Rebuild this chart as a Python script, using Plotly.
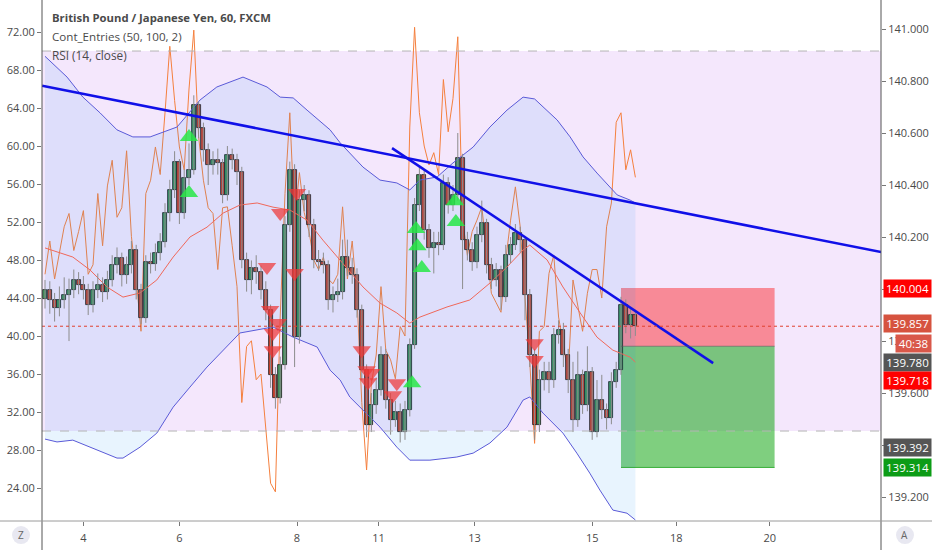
import plotly.graph_objects as go

# GBPJPY 60 min bars (bar index), prices
bar = list(range(124))

open_ = [139.960, 139.996, 139.958, 139.927, 139.958, 139.977, 139.996, 140.035, 140.015, 139.996,
         139.938, 139.996, 140.015, 139.988, 140.035, 140.092, 140.119, 140.054, 140.092, 140.150,
         139.996, 139.888, 140.104, 140.096, 140.138, 140.181, 140.292, 140.381, 140.488, 140.292,
         140.427, 140.458, 140.708, 140.619, 140.535, 140.477, 140.496, 140.485, 140.362, 140.515,
         140.496, 140.450, 140.112, 140.035, 140.081, 140.065, 139.996, 139.919, 139.669, 139.581,
         139.708, 140.246, 140.458, 139.815, 140.342, 140.362, 140.246, 140.112, 140.104, 140.092,
         139.958, 139.977, 139.988, 140.123, 140.081, 140.054, 139.919, 139.688, 139.477, 139.554,
         139.612, 139.746, 139.573, 139.496, 139.527, 139.450, 139.535, 139.785, 140.323, 140.438,
         140.227, 140.158, 140.177, 140.169, 140.408, 140.323, 140.362, 140.504, 140.188, 140.150,
         140.104, 140.208, 140.254, 140.092, 140.035, 140.073, 139.969, 140.131, 140.169, 140.215,
         140.188, 139.977, 139.746, 139.477, 139.650, 139.681, 139.650, 139.823, 139.842, 139.746,
         139.650, 139.496, 139.669, 139.554, 139.681, 139.450, 139.573, 139.535, 139.504, 139.642,
         139.688, 139.938, 139.862, 139.900]
close = [139.996, 139.958, 139.927, 139.958, 139.977, 139.996, 140.035, 140.015, 139.996, 139.938,
         139.996, 140.015, 139.988, 140.035, 140.092, 140.119, 140.054, 140.092, 140.150, 139.996,
         139.888, 140.104, 140.096, 140.138, 140.181, 140.292, 140.381, 140.488, 140.292, 140.427,
         140.458, 140.708, 140.619, 140.535, 140.477, 140.496, 140.485, 140.362, 140.515, 140.496,
         140.450, 140.112, 140.035, 140.081, 140.065, 139.996, 139.919, 139.669, 139.581, 139.708,
         140.246, 140.458, 139.815, 140.342, 140.362, 140.246, 140.112, 140.104, 140.092, 139.958,
         139.977, 139.988, 140.123, 140.081, 140.054, 139.919, 139.688, 139.477, 139.554, 139.612,
         139.746, 139.573, 139.496, 139.527, 139.450, 139.535, 139.785, 140.323, 140.438, 140.227,
         140.158, 140.177, 140.169, 140.408, 140.323, 140.362, 140.504, 140.188, 140.150, 140.104,
         140.208, 140.254, 140.092, 140.035, 140.073, 139.969, 140.131, 140.169, 140.215, 140.188,
         139.977, 139.746, 139.477, 139.650, 139.681, 139.650, 139.823, 139.842, 139.746, 139.650,
         139.496, 139.669, 139.554, 139.681, 139.450, 139.573, 139.535, 139.504, 139.642, 139.688,
         139.938, 139.862, 139.900, 139.857]
high = [140.035, 140.030, 139.985, 140.010, 140.045, 140.040, 140.075, 140.065, 140.050, 140.020,
        140.030, 140.060, 140.045, 140.070, 140.130, 140.160, 140.140, 140.125, 140.185, 140.170,
        140.020, 140.130, 140.140, 140.175, 140.215, 140.330, 140.420, 140.530, 140.500, 140.460,
        140.560, 140.745, 140.720, 140.640, 140.560, 140.530, 140.540, 140.500, 140.550, 140.540,
        140.520, 140.470, 140.140, 140.110, 140.130, 140.090, 140.030, 139.940, 139.700, 139.740,
        140.280, 140.490, 140.480, 140.380, 140.400, 140.380, 140.270, 140.150, 140.140, 140.110,
        140.010, 140.040, 140.190, 140.190, 140.120, 140.080, 139.940, 139.710, 139.600, 139.660,
        139.780, 139.770, 139.600, 139.570, 139.560, 139.570, 139.810, 140.350, 140.470, 140.460,
        140.250, 140.220, 140.220, 140.440, 140.430, 140.400, 140.600, 140.520, 140.220, 140.180,
        140.240, 140.340, 140.270, 140.120, 140.100, 140.090, 140.170, 140.200, 140.250, 140.240,
        140.200, 140.000, 139.770, 139.690, 139.720, 139.720, 139.850, 139.880, 139.870, 139.770,
        139.720, 139.760, 139.690, 139.780, 139.700, 139.650, 139.670, 139.560, 139.680, 139.720,
        139.970, 139.960, 139.930, 139.920]
low = [139.925, 139.905, 139.875, 139.895, 139.925, 139.800, 139.965, 139.980, 139.960, 139.900,
       139.910, 139.965, 139.950, 139.960, 140.010, 140.060, 140.010, 140.020, 140.060, 139.960,
       139.865, 139.870, 140.060, 140.070, 140.110, 140.160, 140.260, 140.350, 140.250, 140.270,
       140.400, 140.440, 140.580, 140.490, 140.400, 140.440, 140.440, 140.330, 140.340, 140.460,
       140.400, 140.080, 139.990, 139.980, 140.020, 139.960, 139.880, 139.620, 139.540, 139.560,
       139.690, 140.220, 139.700, 139.790, 140.300, 140.200, 140.080, 140.070, 140.060, 139.920,
       139.910, 139.950, 139.960, 140.050, 140.020, 139.890, 139.650, 139.430, 139.450, 139.520,
       139.590, 139.540, 139.440, 139.470, 139.410, 139.420, 139.510, 139.770, 140.300, 140.190,
       140.120, 140.060, 140.130, 140.150, 140.290, 140.300, 140.340, 140.000, 140.110, 140.070,
       140.080, 140.180, 140.060, 140.000, 140.010, 139.920, 139.950, 140.100, 140.150, 140.140,
       139.880, 139.700, 139.420, 139.450, 139.610, 139.600, 139.620, 139.790, 139.700, 139.600,
       139.450, 139.470, 139.520, 139.530, 139.420, 139.430, 139.500, 139.460, 139.480, 139.620,
       139.670, 139.830, 139.810, 139.820]

# RSI (14, close), left scale
rsi = [46.5, 50.0, 46.0, 48.7, 51.5, 52.9, 49.0, 51.0, 53.2, 46.5,
       47.5, 55.0, 49.5, 55.8, 58.5, 52.5, 53.5, 59.5, 50.5, 46.0,
       40.5, 55.0, 56.4, 59.9, 57.0, 63.5, 70.5, 64.8, 59.9, 57.5,
       66.0, 72.2, 61.0, 56.4, 53.5, 52.9, 47.0, 53.5, 53.6, 49.5,
       45.2, 33.0, 38.9, 39.5, 35.4, 36.0, 30.0, 24.5, 23.6, 42.0,
       55.0, 63.5, 52.0, 57.2, 53.0, 51.0, 48.0, 47.0, 48.3, 46.0,
       45.5, 46.5, 53.6, 46.0, 50.0, 44.1, 33.0, 25.9, 35.0, 38.0,
       45.2, 38.5, 37.5, 35.5, 41.0, 40.0, 62.0, 72.5, 63.5, 60.0,
       58.0, 59.3, 57.0, 67.0, 61.5, 65.0, 71.5, 52.2, 48.5, 51.0,
       52.2, 53.6, 49.0, 44.5, 43.5, 42.5, 48.0, 52.2, 55.7, 51.5,
       44.1, 37.2, 28.7, 40.5, 41.0, 46.6, 48.5, 42.0, 39.0, 36.0,
       45.9, 43.0, 40.5, 44.5, 47.0, 47.0, 44.0, 51.5, 54.0, 62.5,
       63.5, 57.5, 59.6, 56.7]

# Cont_Entries bands and average
band_up_bar = [0, 4.6, 7.9, 11.5, 15, 18.3, 21.9, 27.5, 32.3, 35.8, 41.25, 46.25, 49, 51.7, 54.6,
               59.4, 61.5, 66.25, 69.8, 73.3, 76, 78.1, 81.7, 85, 89.2, 92.7, 96.25, 99.6, 102,
               106.7, 109.4, 112.1, 115, 117.7, 119.2, 121.9, 123]
band_up = [140.895, 140.815, 140.738, 140.677, 140.612, 140.585, 140.585, 140.623, 140.727, 140.777,
           140.815, 140.777, 140.738, 140.735, 140.688, 140.612, 140.562, 140.469, 140.419, 140.408,
           140.381, 140.419, 140.431, 140.485, 140.546, 140.623, 140.688, 140.738, 140.731, 140.650,
           140.585, 140.508, 140.446, 140.392, 140.362, 140.342, 140.331]
band_lo_bar = [0, 2.5, 5.8, 9.4, 15, 16.25, 19.8, 23.3, 26.7, 30.2, 33.75, 40.6, 44.2, 47.5, 51.7,
               54.6, 56.7, 59.4, 61.5, 63.5, 69.8, 73.3, 76, 80.2, 85.8, 89.2, 92.7, 96.25, 99.6,
               101, 103.75, 107.9, 110.8, 113.5, 115.6, 118.3, 121.25, 123]
band_lo = [139.423, 139.412, 139.419, 139.392, 139.350, 139.350, 139.392, 139.446, 139.546, 139.623,
           139.700, 139.831, 139.842, 139.854, 139.815, 139.792, 139.777, 139.688, 139.650, 139.585,
           139.469, 139.392, 139.342, 139.342, 139.354, 139.369, 139.408, 139.469, 139.573, 139.585,
           139.523, 139.446, 139.369, 139.292, 139.227, 139.150, 139.138, 139.112]
ma_bar = [0, 5.8, 9.4, 12.9, 16.25, 19.8, 23.3, 26.7, 30.2, 33.75, 37.1, 40.6, 44.2, 47.5, 51,
          54.6, 57.9, 61.5, 66.25, 69.8, 73.3, 76, 78.1, 83.75, 88.5, 92.7, 96.25, 99.6, 101,
          104.6, 107.9, 111.5, 115, 118.3, 121.9, 123]
ma = [140.158, 140.123, 140.073, 140.008, 139.969, 139.985, 140.035, 140.123, 140.200, 140.238,
      140.292, 140.323, 140.331, 140.315, 140.304, 140.265, 140.188, 140.112, 140.008, 139.946,
      139.908, 139.869, 139.892, 139.931, 139.958, 140.023, 140.085, 140.150, 140.169, 140.112,
      140.008, 139.908, 139.815, 139.765, 139.738, 139.719]

# entry signals
buy_bar = [30, 30, 77.3, 77.6, 78.5, 76.5, 85.4, 85.6]
buy_px = [140.585, 140.369, 140.231, 140.165, 140.081, 139.638, 140.338, 140.258]
sell_bar = [46.25, 49, 52.5, 52, 46.9, 48.5, 47.5, 47.5, 66, 67, 68, 67.3, 73.3, 72.5, 102, 102]
sell_px = [140.085, 140.292, 140.369, 140.062, 139.919, 139.869, 139.831, 139.765, 139.765, 139.688,
           139.677, 139.642, 139.638, 139.592, 139.792, 139.727]

# drawn trend lines
tl1_bar = [-0.6, 174.2]
tl1_px = [140.782, 140.142]
tl2_bar = [72.3, 139.2]
tl2_px = [140.542, 139.715]

# short position tool
pos_bar = [120, 152]
entry, stop, target = 139.780, 140.004, 139.314
last_px = 139.857

day_bar = [8, 28, 52.5, 69.5, 89.5, 114, 131.5, 151]
day_lbl = ["4", "6", "8", "11", "13", "15", "18", "20"]

rsi_ticks = [24, 28, 32, 36, 40, 44, 48, 52, 56, 60, 64, 68, 72]
px_ticks = [139.2, 139.4, 139.6, 139.8, 140.0, 140.2, 140.4, 140.6, 140.8, 141.0]
# 140.000 and 139.400 sit fully under the price tags
px_lbl = ["139.200", "", "139.600", "139.800", "", "140.200", "140.400", "140.600", "140.800", "141.000"]

# right scale tags: value, colour, shift
tag_val = [140.004, 139.857, 139.780, 139.718, 139.392, 139.314]
tag_col = ["#ff0000", "#d6533f", "#555555", "#ff0000", "#555555", "#0c9c16"]
tag_shift = [0, 3, -16, -18, 0, 0]

FONT = "Open Sans"
TXT = "#4a4a4a"

fig = go.Figure()

fig.add_trace(go.Scatter(x=bar, y=rsi, mode="lines", line=dict(color="#f5803e", width=1),
                         yaxis="y", hoverinfo="skip"))

fig.add_trace(go.Scatter(x=band_lo_bar, y=band_lo, mode="lines", yaxis="y2",
                         line=dict(color="#5a5ad8", width=1)))
fig.add_trace(go.Scatter(x=band_up_bar, y=band_up, mode="lines", yaxis="y2",
                         line=dict(color="#5a5ad8", width=1), fill="tonexty",
                         fillcolor="rgba(33,150,243,0.10)"))
fig.add_trace(go.Scatter(x=ma_bar, y=ma, mode="lines", yaxis="y2",
                         line=dict(color="#f0685a", width=1)))

# wicks
wx, wy = [], []
for i in bar:
    wx += [i, i, None]
    wy += [low[i], high[i], None]
fig.add_trace(go.Scatter(x=wx, y=wy, mode="lines", yaxis="y2",
                         line=dict(color="#8c8c8c", width=1)))

# bodies
body_lo = [min(o, c) for o, c in zip(open_, close)]
body_h = [max(abs(c - o), 0.002) for o, c in zip(open_, close)]
body_col = ["#3e9159" if c >= o else "#c9402c" for o, c in zip(open_, close)]
fig.add_trace(go.Bar(x=bar, y=body_h, base=body_lo, width=0.85, yaxis="y2",
                     marker=dict(color=body_col, line=dict(color="#1d1d1d", width=0.8))))

fig.add_trace(go.Scatter(x=buy_bar, y=buy_px, mode="markers", yaxis="y2",
                         marker=dict(symbol="triangle-up", size=16, color="rgba(40,232,70,0.85)")))
fig.add_trace(go.Scatter(x=sell_bar, y=sell_px, mode="markers", yaxis="y2",
                         marker=dict(symbol="triangle-down", size=16, color="rgba(238,55,55,0.72)")))

fig.add_trace(go.Scatter(x=tl1_bar, y=tl1_px, mode="lines", yaxis="y2",
                         line=dict(color="#1010e8", width=2.5)))
fig.add_trace(go.Scatter(x=tl2_bar, y=tl2_px, mode="lines", yaxis="y2",
                         line=dict(color="#1010e8", width=2.5)))

shapes = [
    # RSI 30-70 background
    dict(type="rect", xref="paper", x0=0, x1=1, yref="y", y0=30, y1=70,
         fillcolor="#f4e7fc", line=dict(width=0), layer="below"),
    dict(type="line", xref="paper", x0=0, x1=1, yref="y", y0=70, y1=70,
         line=dict(color="#b4b4b4", width=1, dash="dash")),
    dict(type="line", xref="paper", x0=0, x1=1, yref="y", y0=30, y1=30,
         line=dict(color="#b4b4b4", width=1, dash="dash")),
    # position box
    dict(type="rect", xref="x", x0=pos_bar[0], x1=pos_bar[1], yref="y2", y0=entry, y1=stop,
         fillcolor="rgba(255,0,0,0.40)", line=dict(width=0), layer="below"),
    dict(type="rect", xref="x", x0=pos_bar[0], x1=pos_bar[1], yref="y2", y0=target, y1=entry,
         fillcolor="rgba(0,160,0,0.50)", line=dict(width=0), layer="below"),
    dict(type="line", xref="x", x0=pos_bar[0], x1=pos_bar[1], yref="y2", y0=entry, y1=entry,
         line=dict(color="rgba(90,90,90,0.6)", width=1)),
    dict(type="line", xref="x", x0=pos_bar[0], x1=pos_bar[1], yref="y2", y0=target, y1=target,
         line=dict(color="rgba(0,150,0,0.7)", width=1)),
    # last price
    dict(type="line", xref="paper", x0=0, x1=1, yref="y2", y0=last_px, y1=last_px,
         line=dict(color="#e0412e", width=1, dash="dot")),
    # frame
    dict(type="line", xref="paper", x0=0, x1=0, yref="paper", y0=-0.06, y1=1,
         line=dict(color="#555555", width=1)),
    dict(type="line", xref="paper", x0=1, x1=1, yref="paper", y0=-0.06, y1=1,
         line=dict(color="#555555", width=1)),
    dict(type="line", xref="paper", x0=-0.06, x1=1.07, yref="paper", y0=0, y1=0,
         line=dict(color="#9a9a9a", width=1)),
    # Z / A buttons
    dict(type="circle", xref="paper", yref="paper", x0=-0.0357, x1=-0.0143, y0=-0.0442, y1=-0.0096,
         fillcolor="#e8e8f1", line=dict(width=0)),
    dict(type="circle", xref="paper", yref="paper", x0=1.0179, x1=1.0393, y0=-0.0442, y1=-0.0096,
         fillcolor="#e8e8f1", line=dict(width=0)),
]

ann = [
    dict(text="British Pound / Japanese Yen, 60, FXCM", x=0.0095, y=0.967,
         font=dict(size=11.3, color=TXT, family=FONT, weight="bold")),
    dict(text="Cont_Entries (50, 100, 2)", x=0.0095, y=0.929, font=dict(size=11.6, color=TXT, family=FONT)),
    dict(text="RSI (14, close)", x=0.0095, y=0.894, font=dict(size=11.8, color=TXT, family=FONT)),
]
for a in ann:
    a.update(xref="paper", yref="paper", xanchor="left", yanchor="middle", showarrow=False)

for v, c, s in zip(tag_val, tag_col, tag_shift):
    ann.append(dict(text=f"{v:.3f}", xref="paper", x=1, xshift=2, xanchor="left", yref="y2", y=v,
                    yshift=s, yanchor="middle", showarrow=False, bgcolor=c, width=45, height=15,
                    borderpad=1, font=dict(size=11.5, color="white", family=FONT)))
ann.append(dict(text="40:38", xref="paper", x=1, xshift=14, xanchor="left", yref="y2", y=last_px,
                yshift=-17, yanchor="middle", showarrow=False, bgcolor="#d9584a", width=33, height=15,
                borderpad=1, font=dict(size=11.5, color="white", family=FONT)))
ann.append(dict(text="Z", xref="paper", yref="paper", x=-0.025, y=-0.0269, xanchor="center",
                yanchor="middle", showarrow=False, font=dict(size=10, color="#666", family=FONT)))
ann.append(dict(text="A", xref="paper", yref="paper", x=1.0286, y=-0.0269, xanchor="center",
                yanchor="middle", showarrow=False, font=dict(size=10, color="#666", family=FONT)))

fig.update_layout(
    width=932, height=550,
    margin=dict(l=42, r=51, t=0, b=29, pad=0),
    paper_bgcolor="white", plot_bgcolor="white",
    showlegend=False, bargap=0,
    font=dict(family=FONT, size=11, color=TXT),
    xaxis=dict(range=[-0.625, 174.17], tickvals=day_bar, ticktext=day_lbl, showgrid=False,
               zeroline=False, ticks="outside", ticklen=4, tickcolor="#777", automargin=False,
               ticklabelstandoff=3, tickfont=dict(size=11, color=TXT)),
    yaxis=dict(range=[20.53, 75.37], tickvals=rsi_ticks, tickformat=".2f", showgrid=False,
               zeroline=False, ticks="outside", ticklen=4, tickcolor="#777", automargin=False,
               tickfont=dict(size=11, color=TXT)),
    yaxis2=dict(range=[139.108, 141.1115], tickvals=px_ticks, ticktext=px_lbl, overlaying="y",
                side="right", showgrid=False, zeroline=False, ticks="outside", ticklen=4,
                tickcolor="#777", automargin=False, tickfont=dict(size=11, color=TXT)),
    shapes=shapes,
    annotations=ann,
)

# page body has a default 8px margin; drop it so the figure sits at the window corner
fig.write_html("out.html", config={"displayModeBar": False},
               post_script="document.body.style.margin='0px';")
